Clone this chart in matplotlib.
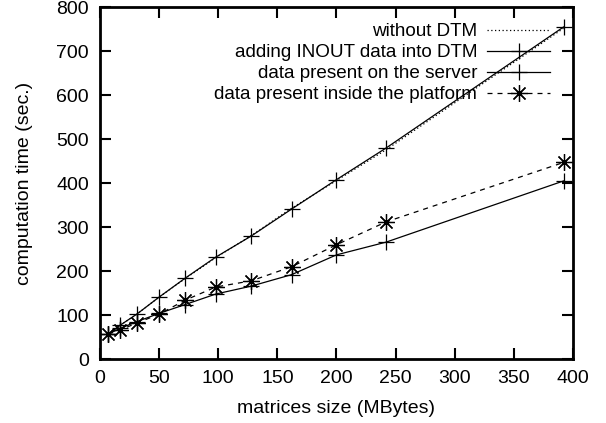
import matplotlib
matplotlib.use("Agg")
import matplotlib.pyplot as plt

plt.rcParams['font.family'] = ['Liberation Sans', 'DejaVu Sans']
plt.rcParams['font.size'] = 14

# matrices size (MBytes)
sizes = [7, 17, 31, 50, 72, 98, 128, 162, 200, 242, 392]

# computation time (sec.)
without_dtm = [57, 77, 102, 141, 183, 231, 281, 343, 406, 476, 752]
adding_inout = [57, 77, 102, 141, 184, 232, 280, 341, 408, 480, 755]
on_server = [57, 70, 85, 104, 124, 148, 166, 192, 237, 266, 405]
inside_platform = [57, 66, 82, 102, 134, 164, 178, 210, 260, 312, 447]

labels = ["without DTM", "adding INOUT data into DTM",
          "data present on the server", "data present inside the platform"]

fig = plt.figure(figsize=(6.06, 4.23), dpi=100)
ax = fig.add_axes([0.165, 0.151, 0.7805, 0.832])

star = (8, 2, 0)
ax.plot(sizes, without_dtm, color='black', lw=0.9, ls=(0, (1, 2)), label=labels[0])
ax.plot(sizes, adding_inout, color='black', lw=0.9, marker='+', ms=12, mew=0.9, label=labels[1])
ax.plot(sizes, on_server, color='black', lw=0.9, marker='+', ms=12, mew=0.9, label=labels[2])
ax.plot(sizes, inside_platform, color='black', lw=0.9, ls=(0, (4, 4)), marker=star,
        ms=12, mew=0.9, label=labels[3])

ax.set_xlim(0, 400)
ax.set_ylim(0, 800)
ax.set_xticks(range(0, 401, 50))
ax.set_yticks(range(0, 801, 100))
ax.tick_params(direction='in', length=8, width=1.5, top=True, right=True, pad=8)
for s in ax.spines.values():
    s.set_linewidth(2)

ax.set_xlabel("matrices size (MBytes)", labelpad=9)
ax.set_ylabel("computation time (sec.)", labelpad=17)

ax.legend(loc='upper right', bbox_to_anchor=(0.951, 0.955), frameon=False,
          markerfirst=False, handlelength=3.3, labelspacing=0.2, borderaxespad=0,
          borderpad=0, handletextpad=0.55, fontsize=13.6)

fig.savefig("out.png", dpi=100)
